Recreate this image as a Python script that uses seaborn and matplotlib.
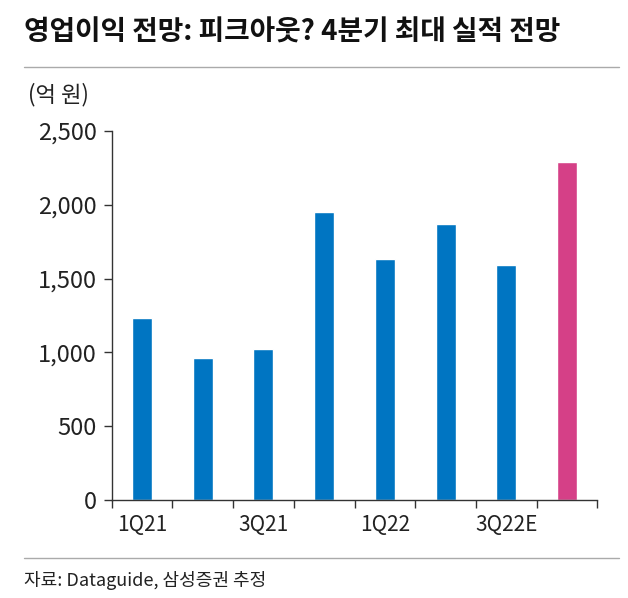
import numpy as np
import pandas as pd
import matplotlib
matplotlib.use("Agg")
import matplotlib.pyplot as plt
import seaborn as sns
from matplotlib.ticker import FuncFormatter, FixedLocator

# data (억 원)
quarters = ["1Q21", "2Q21", "3Q21", "4Q21", "1Q22", "2Q22", "3Q22E", "4Q22E"]
op_profit = [1233, 962, 1023, 1951, 1633, 1870, 1592, 2290]
tick_labels = ["1Q21", "", "3Q21", "", "1Q22", "", "3Q22E", ""]
bar_colors = ["#0075c2"] * 7 + ["#d54087"]

sns.set_theme(style="white")
plt.rcParams["font.family"] = ["Noto Sans CJK KR", "DejaVu Sans"]

df = pd.DataFrame({"quarter": quarters, "value": op_profit})

fig = plt.figure(figsize=(6.28, 5.98), dpi=100)
ax = fig.add_axes([0.178, 0.164, 0.773, 0.617])

sns.barplot(data=df, x="quarter", y="value", hue="quarter", palette=bar_colors,
            width=0.33, legend=False, ax=ax, saturation=1)

ax.set_xlim(-0.5, len(quarters) - 0.5)
ax.set_ylim(0, 2500)
ax.set_yticks([0, 500, 1000, 1500, 2000, 2500])
ax.yaxis.set_major_formatter(FuncFormatter(lambda v, p: f"{int(v):,}"))
ax.set_xticks(range(len(quarters)))
ax.set_xticklabels(tick_labels)
ax.xaxis.set_minor_locator(FixedLocator(np.arange(-0.5, len(quarters), 1.0)))
ax.tick_params(axis="x", which="major", bottom=True, length=0, pad=10, labelsize=15,
               labelcolor="#222222")
ax.tick_params(axis="x", which="minor", bottom=True, length=6, width=1, direction="out",
               color="#333333")
ax.tick_params(axis="y", left=True, length=6, width=1, direction="out", labelsize=17,
               labelcolor="#222222", color="#333333", pad=5)
ax.set_xlabel("")
ax.set_ylabel("")
for s in ["top", "right"]:
    ax.spines[s].set_visible(False)
for s in ["left", "bottom"]:
    ax.spines[s].set_color("#333333")
    ax.spines[s].set_linewidth(1)

# title, unit, source
fig.text(0.038, 0.945, "영업이익 전망: 피크아웃? 4분기 최대 실적 전망", fontsize=20,
         fontweight="bold", ha="left", va="center", color="#111111")
fig.add_artist(plt.Line2D([0.038, 0.985], [0.888, 0.888], color="#aaaaaa", lw=1))
fig.text(0.044, 0.842, "(억 원)", fontsize=16, ha="left", va="center", color="#222222")
fig.add_artist(plt.Line2D([0.038, 0.985], [0.067, 0.067], color="#aaaaaa", lw=1))
fig.text(0.038, 0.03, "자료: Dataguide, 삼성증권 추정", fontsize=13,
         ha="left", va="center", color="#222222")

fig.savefig("out.png", dpi=100)
